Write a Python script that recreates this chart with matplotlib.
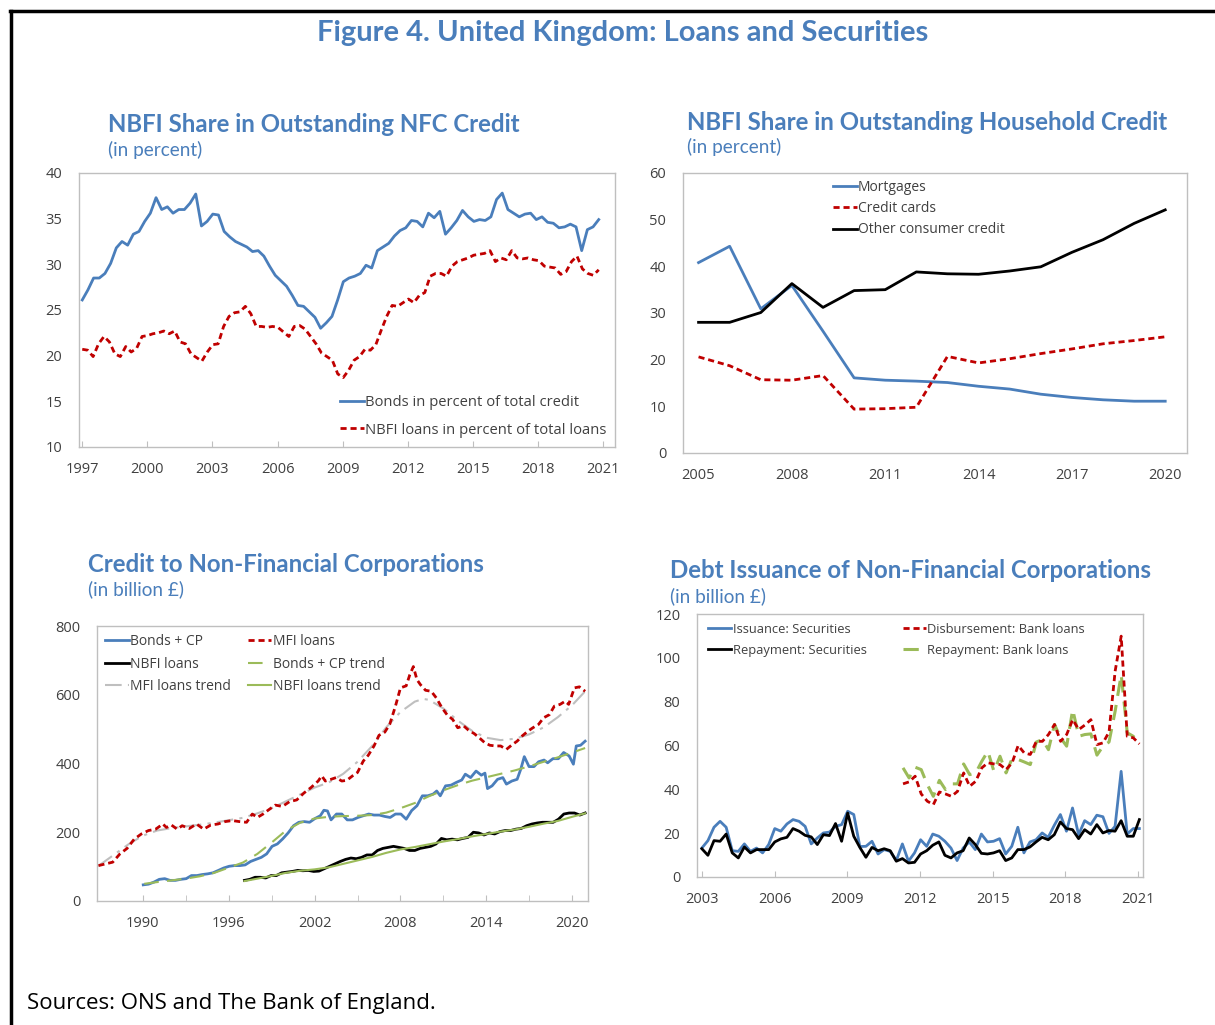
import numpy as np
import matplotlib
matplotlib.use("Agg")
import matplotlib.pyplot as plt
from matplotlib.lines import Line2D

# ---------------- DATA ----------------
# Panel 1: NBFI share in outstanding NFC credit (quarterly, 1997Q1-2020Q4)
p1_bonds = [26.1, 27.2, 28.5, 28.5, 29.0, 30.1, 31.8, 32.5, 32.1, 33.3, 33.6, 34.7, 35.6, 37.3,
            36.0, 36.3, 35.6, 36.0, 36.0, 36.7, 37.7, 34.2, 34.7, 35.5, 35.4, 33.6, 33.0, 32.5,
            32.2, 31.9, 31.4, 31.5, 30.9, 29.8, 28.8, 28.2, 27.6, 26.6, 25.5, 25.4, 24.8, 24.2,
            23.0, 23.6, 24.3, 26.1, 28.1, 28.5, 28.7, 29.0, 29.9, 29.6, 31.5, 31.9, 32.3, 33.1,
            33.7, 34.0, 34.8, 34.7, 34.1, 35.6, 35.1, 35.8, 33.3, 34.0, 34.8, 35.9, 35.2, 34.7,
            34.9, 34.8, 35.2, 37.1, 37.8, 36.0, 35.6, 35.2, 35.5, 35.6, 34.9, 35.2, 34.6, 34.5,
            34.0, 34.1, 34.4, 34.1, 31.5, 33.8, 34.1, 34.9]
p1_nbfi = [20.7, 20.6, 19.9, 21.3, 22.1, 21.5, 20.2, 19.9, 21.0, 20.4, 20.8, 22.1, 22.2, 22.4,
           22.5, 22.7, 22.4, 22.7, 21.5, 21.3, 20.2, 19.8, 19.4, 20.4, 21.2, 21.3, 23.2, 24.3,
           24.7, 24.8, 25.4, 24.6, 23.2, 23.2, 23.1, 23.2, 23.1, 22.6, 22.1, 23.2, 23.3, 22.9,
           22.1, 21.3, 20.3, 19.9, 19.5, 18.0, 17.6, 18.4, 19.5, 19.9, 20.7, 20.6, 21.2, 22.8,
           24.3, 25.5, 25.4, 25.8, 26.2, 25.8, 26.6, 26.9, 28.7, 29.0, 29.0, 28.7, 29.8, 30.3,
           30.5, 30.7, 31.0, 31.1, 31.2, 31.5, 30.3, 30.7, 30.5, 31.5, 30.7, 30.6, 30.7, 30.5,
           30.4, 29.8, 29.7, 29.6, 28.9, 29.2, 30.3, 30.9, 29.5, 29.0, 28.8, 29.4]
p1_start, p1_end = 1997.0, 2020.8

# Panel 2: NBFI share in outstanding household credit (annual)
p2_years = list(range(2005, 2021))
p2_mortgages = [40.8, 44.3, 30.9, 35.9, 26.1, 16.1, 15.6, 15.4, 15.1, 14.3, 13.7, 12.6, 11.9, 11.4, 11.1, 11.1]
p2_cards = [20.6, 18.7, 15.7, 15.6, 16.6, 9.4, 9.5, 9.8, 20.7, 19.3, 20.2, 21.3, 22.3, 23.4, 24.1, 24.9]
p2_other = [28.0, 28.0, 30.1, 36.3, 31.2, 34.8, 35.0, 38.8, 38.4, 38.3, 39.0, 39.9, 43.0, 45.7, 49.2, 52.1]

# Panel 3: Credit to NFCs (billion GBP)
p3_mfi_years = [1986.9, 1987.4, 1987.9, 1988.4, 1988.9, 1989.4, 1989.9, 1990.4, 1990.9, 1991.4,
                1991.65, 1992.0, 1992.4, 1992.75, 1993.25, 1993.75, 1994.25, 1994.75, 1995.25,
                1995.75, 1996.25, 1996.75, 1997.25, 1997.65, 1998.0, 1998.4, 1998.75, 1999.25,
                1999.75, 2000.25, 2000.75, 2001.25, 2001.75, 2002.25, 2002.5, 2002.75, 2003.15,
                2003.5, 2003.9, 2004.25, 2004.65, 2005.0, 2005.4, 2005.75, 2006.15, 2006.5, 2006.9,
                2007.25, 2007.65, 2008.0, 2008.4, 2008.65, 2008.9, 2009.15, 2009.4, 2009.75, 2010.15,
                2010.5, 2010.9, 2011.25, 2011.65, 2012.0, 2012.4, 2012.75, 2013.15, 2013.5, 2013.9,
                2014.25, 2014.65, 2015.0, 2015.4, 2015.75, 2016.15, 2016.5, 2016.9, 2017.25, 2017.65,
                2018.0, 2018.4, 2018.75, 2019.15, 2019.5, 2019.75, 2020.15, 2020.5, 2020.9]
p3_mfi = [103, 108, 113, 137, 153, 180, 195, 205, 209, 224, 214, 221, 209, 219, 211, 224, 209, 221,
          224, 231, 234, 231, 229, 253, 243, 253, 264, 279, 275, 289, 294, 314, 330, 349, 364, 349,
          354, 359, 349, 351, 364, 374, 407, 424, 451, 482, 491, 514, 567, 620, 626, 658, 682, 644,
          629, 613, 610, 591, 562, 542, 528, 504, 510, 497, 487, 475, 460, 453, 451, 451, 441, 453,
          465, 480, 494, 504, 514, 533, 542, 567, 572, 581, 572, 620, 623, 610]
p3_bonds_years = [1990.03, 1990.4, 1990.78, 1991.15, 1991.53, 1991.9, 1992.28, 1992.65, 1993.03,
                  1993.4, 1993.78, 1994.15, 1994.53, 1994.9, 1995.28, 1995.65, 1996.03, 1996.4,
                  1996.78, 1997.15, 1997.53, 1997.9, 1998.28, 1998.65, 1999.03, 1999.4, 1999.78,
                  2000.15, 2000.53, 2000.9, 2001.28, 2001.65, 2002.03, 2002.4, 2002.65, 2002.9,
                  2003.15, 2003.53, 2003.9, 2004.28, 2004.65, 2005.03, 2005.4, 2005.78, 2006.15,
                  2006.53, 2006.9, 2007.28, 2007.65, 2008.03, 2008.4, 2008.78, 2009.15, 2009.53,
                  2009.9, 2010.28, 2010.53, 2010.78, 2011.15, 2011.53, 2011.9, 2012.28, 2012.53,
                  2012.9, 2013.28, 2013.65, 2013.9, 2014.08, 2014.4, 2014.78, 2015.15, 2015.4,
                  2015.78, 2016.15, 2016.4, 2016.65, 2016.98, 2017.33, 2017.65, 2018.03, 2018.28,
                  2018.65, 2019.03, 2019.4, 2019.78, 2020.08, 2020.28, 2020.58, 2020.9]
p3_bonds = [47, 49, 55, 63, 65, 60, 60, 63, 65, 74, 74, 77, 79, 82, 89, 96, 101, 103, 103, 105, 115,
            121, 127, 137, 159, 166, 181, 198, 219, 229, 231, 229, 240, 248, 264, 262, 236, 253, 253,
            236, 236, 243, 248, 253, 250, 250, 246, 243, 253, 253, 238, 263, 277, 306, 306, 311, 320,
            306, 335, 337, 345, 352, 369, 359, 378, 366, 372, 327, 335, 354, 359, 340, 349, 354, 383,
            420, 391, 391, 405, 410, 402, 414, 414, 432, 422, 398, 451, 453, 465]
p3_nbfi = [60, 63, 69, 69, 67, 74, 74, 82, 84, 86, 89, 88, 89, 86, 87, 94, 101, 108, 115, 121, 125,
           123, 127, 134, 134, 147, 153, 156, 159, 156, 153, 147, 147, 153, 156, 159, 166, 182, 178,
           180, 178, 182, 185, 200, 198, 192, 198, 195, 202, 205, 205, 209, 211, 219, 224, 227, 229,
           229, 229, 238, 253, 256, 256, 250, 256]
p3_nbfi_start, p3_end = 1997.1, 2020.9
p3_mfi_trend_years = [1986.9, 1988, 1989, 1990, 1991, 1992, 1993, 1994, 1995, 1996, 1997, 1998, 1999,
                      2000, 2001, 2002, 2003, 2004, 2005, 2006, 2007, 2008, 2009, 2009.6, 2010, 2011,
                      2012, 2013, 2014, 2015, 2016, 2017, 2018, 2019, 2020, 2020.9]
p3_mfi_trend = [102, 135, 165, 190, 205, 212, 217, 222, 228, 235, 242, 255, 270, 290, 310, 330, 345,
                370, 405, 450, 505, 550, 580, 588, 585, 560, 525, 495, 475, 468, 472, 485, 505, 535,
                570, 610]
p3_bonds_trend_years = [1990.1, 1991, 1992, 1993, 1994, 1995, 1996, 1997, 1998, 1999, 2000, 2001, 2002,
                        2003, 2004, 2005, 2006, 2007, 2008, 2009, 2010, 2011, 2012, 2013, 2014, 2015,
                        2016, 2017, 2018, 2019, 2020, 2020.9]
p3_bonds_trend = [50, 55, 60, 65, 72, 82, 97, 112, 137, 170, 205, 228, 240, 245, 247, 248, 250, 257,
                  270, 285, 305, 322, 337, 350, 360, 370, 380, 392, 405, 418, 432, 445]
p3_nbfi_trend_years = [1997.1, 1998, 1999, 2000, 2001, 2002, 2003, 2004, 2005, 2006, 2007, 2008, 2009,
                       2010, 2011, 2012, 2013, 2014, 2015, 2016, 2017, 2018, 2019, 2020, 2020.9]
p3_nbfi_trend = [58, 65, 73, 82, 88, 92, 98, 108, 118, 128, 140, 150, 157, 165, 173, 180, 188, 195,
                 202, 208, 216, 225, 233, 245, 255]

# Panel 4: Debt issuance of NFCs (billion GBP, quarterly)
p4_issuance = [13.2, 16.6, 22.7, 25.4, 22.7, 12.0, 11.7, 15.1, 11.7, 13.2, 11.0, 14.8, 22.1, 20.9,
               24.2, 26.2, 25.4, 23.1, 15.1, 17.8, 20.1, 20.5, 23.1, 23.9, 30.0, 28.5, 13.9, 14.0,
               16.3, 10.5, 12.5, 11.7, 7.5, 15.1, 7.2, 11.0, 17.0, 14.0, 19.6, 18.6, 16.3, 13.2, 7.5,
               13.2, 16.0, 12.5, 19.6, 16.0, 16.3, 17.5, 10.5, 14.0, 22.7, 11.0, 16.0, 17.0, 20.1,
               18.1, 23.6, 28.5, 20.9, 31.5, 19.3, 25.7, 23.9, 28.2, 27.5, 19.9, 23.1, 48.2, 19.6,
               22.1, 22.1]
p4_repay_sec = [12.9, 9.9, 16.6, 16.3, 19.6, 11.0, 8.7, 13.7, 11.0, 12.5, 12.5, 12.5, 16.0, 17.4,
                18.1, 22.1, 20.9, 19.0, 18.3, 14.8, 19.3, 18.9, 24.4, 16.3, 29.2, 18.6, 13.5, 9.0,
                13.5, 12.0, 12.9, 12.0, 7.2, 8.4, 6.4, 6.7, 10.5, 12.0, 14.5, 16.0, 9.9, 8.7, 11.0,
                12.0, 17.8, 14.8, 10.8, 10.5, 11.0, 12.0, 7.5, 8.7, 12.5, 12.5, 13.7, 16.0, 18.1,
                17.0, 19.3, 25.1, 22.1, 21.6, 17.5, 21.6, 19.6, 23.9, 20.1, 21.2, 20.9, 25.7, 18.6,
                18.6, 26.2]
p4_sec_start, p4_end = 2003.0, 2021.05
p4_disburse = [42.5, 43.4, 46.0, 37.9, 34.6, 33.0, 38.8, 37.9, 36.8, 39.1, 47.5, 41.4, 43.7, 49.8,
               52.1, 51.6, 51.3, 49.0, 52.1, 60.0, 56.6, 55.9, 61.9, 61.9, 65.0, 69.6, 61.9, 65.0,
               71.8, 67.3, 69.3, 71.8, 60.4, 61.2, 66.2, 93.9, 109.9, 64.2, 63.5, 60.7]
p4_repay_bank = [49.8, 45.2, 50.1, 49.0, 42.2, 36.8, 44.1, 39.9, 42.5, 42.5, 51.6, 46.7, 47.5, 52.8,
                 57.4, 48.2, 55.1, 47.5, 54.0, 53.6, 52.5, 51.3, 61.6, 62.7, 58.1, 69.6, 63.5, 59.7,
                 76.4, 64.2, 65.0, 65.3, 55.6, 59.7, 61.6, 75.6, 92.4, 65.8, 64.2, 60.4]
p4_bank_start = 2011.3

# ---------------- STYLE ----------------
W, H = 1215, 1025
BLUE = "#4A7EBB"
TBLUE = "#4A7EBB"
RED = "#C00000"
GREEN = "#9BBB59"
GRAY = "#BFBFBF"
TICKC = "#404040"
SPINE = "#BFBFBF"
TFONT = ["Lato", "DejaVu Sans"]
BFONT = ["Open Sans", "DejaVu Sans"]
plt.rcParams["font.family"] = BFONT

fig = plt.figure(figsize=(W / 100, H / 100), dpi=100)


def rect(l, t, r, b):
    return [l / W, 1 - b / H, (r - l) / W, (b - t) / H]


def style_ax(ax):
    for s in ax.spines.values():
        s.set_color(SPINE)
        s.set_linewidth(1.0)
    ax.tick_params(axis="both", which="both", labelsize=10.5, colors=TICKC, direction="in")
    ax.tick_params(axis="y", length=0, pad=12)
    ax.tick_params(axis="x", which="both", length=4, color=SPINE, pad=11)


def ptext(x, y, s, **kw):
    fig.text(x / W, 1 - y / H, s, **kw)


LW = 2.0
red_dash = (0, (2.2, 1.4))

# Border
fig.add_artist(Line2D([10 / W, 1.0], [1 - 11 / H, 1 - 11 / H], color="black", lw=2.5))
fig.add_artist(Line2D([11 / W, 11 / W], [0.0, 1 - 11 / H], color="black", lw=2.5))

# Titles
ptext(623, 33, "Figure 4. United Kingdom: Loans and Securities", ha="center", va="center",
      fontsize=21, fontweight="bold", color=TBLUE, family=TFONT)
ptext(27, 1003, "Sources: ONS and The Bank of England.", ha="left", va="center",
      fontsize=16, color="black", family=BFONT)

titles = [
    (108, 124, 150, "NBFI Share in Outstanding NFC Credit", "(in percent)"),
    (687, 122, 147, "NBFI Share in Outstanding Household Credit", "(in percent)"),
    (88, 564, 589, "Credit to Non-Financial Corporations", "(in billion \u00a3)"),
    (670, 570, 596, "Debt Issuance of Non-Financial Corporations", "(in billion \u00a3)"),
]
for x, y1, y2, t, st in titles:
    ptext(x, y1, t, ha="left", va="center", fontsize=17.3, fontweight="bold", color=TBLUE, family=TFONT)
    ptext(x, y2, st, ha="left", va="center", fontsize=13.7, color=TBLUE, family=TFONT)

# ---------------- Panel 1 ----------------
ax1 = fig.add_axes(rect(79, 173, 615, 447))
x_b = np.linspace(p1_start, p1_end, len(p1_bonds))
x_n = np.linspace(p1_start, p1_end, len(p1_nbfi))
ax1.plot(x_b, p1_bonds, color=BLUE, lw=LW, label="Bonds in percent of total credit")
ax1.plot(x_n, p1_nbfi, color=RED, lw=LW, ls=red_dash, label="NBFI loans in percent of total loans")
ax1.set_xlim(1996.85, 2021.55)
ax1.set_ylim(10, 40)
ax1.set_xticks(range(1997, 2022, 3))
ax1.set_yticks(range(10, 41, 5))
style_ax(ax1)
ax1.legend(loc="upper left", bbox_to_anchor=((340 - 79) / 536, (447 - 395) / 274), frameon=False,
           fontsize=10.6, handlelength=1.6, handletextpad=0.1, labelspacing=0.85, borderpad=0,
           borderaxespad=0, labelcolor=TICKC)

# ---------------- Panel 2 ----------------
ax2 = fig.add_axes(rect(683, 173, 1187, 453))
ax2.plot(p2_years, p2_mortgages, color=BLUE, lw=LW, label="Mortgages")
ax2.plot(p2_years, p2_cards, color=RED, lw=LW, ls=red_dash, label="Credit cards")
ax2.plot(p2_years, p2_other, color="black", lw=LW, label="Other consumer credit")
ax2.set_xlim(2004.5, 2020.7)
ax2.set_ylim(0, 60)
ax2.set_xticks(range(2005, 2021, 3))
ax2.set_yticks(range(0, 61, 10))
style_ax(ax2)
ax2.tick_params(axis="x", length=0)
ax2.legend(loc="upper left", bbox_to_anchor=((833 - 683) / 504, 1 - (180 - 173) / 280), frameon=False,
           fontsize=10, handlelength=1.7, handletextpad=0.1, labelspacing=0.45, borderpad=0,
           borderaxespad=0, labelcolor=TICKC)

# ---------------- Panel 3 ----------------
ax3 = fig.add_axes(rect(97, 626, 588, 901))
x_nl = np.linspace(p3_nbfi_start, p3_end, len(p3_nbfi))
h_b, = ax3.plot(p3_bonds_years, p3_bonds, color=BLUE, lw=LW, label="Bonds + CP")
h_n, = ax3.plot(x_nl, p3_nbfi, color="black", lw=LW, label="NBFI loans")
h_mt, = ax3.plot(p3_mfi_trend_years, p3_mfi_trend, color=GRAY, lw=1.5, ls=(0, (8, 3, 1.5, 3)),
                 label="MFI loans trend")
h_bt, = ax3.plot(p3_bonds_trend_years, p3_bonds_trend, color=GREEN, lw=1.5, ls=(0, (7, 4)),
                 label="Bonds + CP trend")
h_nt, = ax3.plot(p3_nbfi_trend_years, p3_nbfi_trend, color=GREEN, lw=1.5, label="NBFI loans trend")
h_m, = ax3.plot(p3_mfi_years, p3_mfi, color=RED, lw=LW, ls=red_dash, label="MFI loans")
ax3.set_xlim(1986.8, 2021.1)
ax3.set_ylim(0, 800)
ax3.set_xticks(range(1990, 2021, 6))
ax3.set_xticks(range(1993, 2021, 6), minor=True)
ax3.set_yticks(range(0, 801, 200))
style_ax(ax3)
ax3.legend(handles=[h_b, h_n, h_mt, h_m, h_bt, h_nt], ncol=2, loc="upper left",
           bbox_to_anchor=((105 - 97) / 491, 1 - (634 - 626) / 275), frameon=False,
           fontsize=10, handlelength=1.7, handletextpad=0.1, labelspacing=0.55, columnspacing=1.2,
           borderpad=0, borderaxespad=0, labelcolor=TICKC)

# ---------------- Panel 4 ----------------
ax4 = fig.add_axes(rect(697, 614, 1143, 877))
x_is = np.linspace(p4_sec_start, p4_end, len(p4_issuance))
x_rs = np.linspace(p4_sec_start, p4_end, len(p4_repay_sec))
x_d = np.linspace(p4_bank_start, p4_end, len(p4_disburse))
x_rb = np.linspace(p4_bank_start, p4_end, len(p4_repay_bank))
g_is, = ax4.plot(x_is, p4_issuance, color=BLUE, lw=LW, label="Issuance: Securities")
g_rs, = ax4.plot(x_rs, p4_repay_sec, color="black", lw=LW, label="Repayment: Securities")
g_rb, = ax4.plot(x_rb, p4_repay_bank, color=GREEN, lw=2.2, ls=(0, (5, 3)), label="Repayment: Bank loans")
g_d, = ax4.plot(x_d, p4_disburse, color=RED, lw=LW, ls=red_dash, label="Disbursement: Bank loans")
ax4.set_xlim(2002.8, 2021.2)
ax4.set_ylim(0, 120)
ax4.set_xticks(range(2003, 2022, 3))
ax4.set_yticks(range(0, 121, 20))
style_ax(ax4)
ax4.legend(handles=[g_is, g_rs, g_d, g_rb], ncol=2, loc="upper left",
           bbox_to_anchor=((708 - 697) / 446, 1 - (623 - 614) / 263), frameon=False,
           fontsize=9.3, handlelength=1.8, handletextpad=0.1, labelspacing=0.6, columnspacing=2.8,
           borderpad=0, borderaxespad=0, labelcolor=TICKC)

fig.savefig("out.png", dpi=100)
